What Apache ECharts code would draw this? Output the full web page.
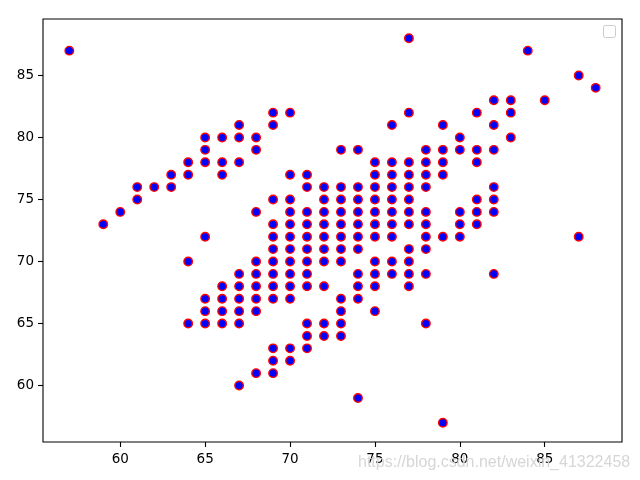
<!DOCTYPE html>
<html><head><meta charset="utf-8">
<script src="https://cdn.jsdelivr.net/npm/echarts@6/dist/echarts.min.js"></script>
<style>html,body{margin:0;padding:0;background:#fff}#c{width:640px;height:480px}</style>
</head><body><div id="c"></div>
<script>
const xCols = [57,59,60,61,62,63,64,65,66,67,68,69,70,71,72,73,74,75,76,77,78,79,80,81,82,83,84,85,87,88];
const yByCol = [
  [87],[73],[74],[76,75],[76],[77,76],[78,77,70,65],
  [80,79,78,72,67,66,65],
  [80,78,77,68,67,66,65],
  [81,80,78,69,68,67,66,65,60],
  [80,79,74,70,69,68,67,66,61],
  [82,81,75,73,72,71,70,69,68,67,63,62,61],
  [82,77,75,74,73,72,71,70,69,68,67,63,62],
  [77,76,74,73,72,71,70,69,68,65,64,63],
  [76,75,74,73,72,71,70,68,65,64],
  [79,76,75,74,73,72,71,70,67,66,65,64],
  [79,76,75,74,73,72,71,69,68,67,59],
  [78,77,76,75,74,73,72,70,69,68,66],
  [81,78,77,76,75,74,73,72,70,69],
  [88,82,78,77,76,75,74,73,71,70,69,68],
  [79,78,77,76,74,73,72,71,69,65],
  [81,79,78,77,72,57],
  [80,79,74,73,72],
  [82,79,78,75,74,73],
  [83,81,79,76,75,74,69],
  [83,82,80],
  [87],[83],[85,72],[84]
];
const xTicks = [60,65,70,75,80,85];
const yTicks = [60,65,70,75,80,85];
const watermark = 'https://blog.csdn.net/weixin_41322458';

const points = [];
xCols.forEach((x, i) => yByCol[i].forEach(y => points.push([x, y])));

const chart = echarts.init(document.getElementById('c'), null, {renderer: 'canvas'});
const font = {color: '#000', fontFamily: 'DejaVu Sans', fontSize: 13.5};
chart.setOption({
  animation: false,
  backgroundColor: '#fff',
  grid: {left: 43, top: 19, right: 18, bottom: 38, show: true, borderColor: '#000', borderWidth: 1.1, backgroundColor: 'transparent'},
  xAxis: {
    type: 'value', min: 55.45, max: 89.55,
    axisLine: {show: false},
    splitLine: {show: false},
    axisTick: {show: true, inside: false, length: 5, lineStyle: {color: '#000', width: 1.1}, customValues: xTicks},
    axisLabel: Object.assign({margin: 10, customValues: xTicks}, font)
  },
  yAxis: {
    type: 'value', min: 55.45, max: 89.55,
    axisLine: {show: false},
    splitLine: {show: false},
    axisTick: {show: true, inside: false, length: 5, lineStyle: {color: '#000', width: 1.1}, customValues: yTicks},
    axisLabel: Object.assign({margin: 9, customValues: yTicks}, font)
  },
  series: [{
    type: 'scatter',
    data: points,
    symbol: 'circle',
    symbolSize: 8.5,
    itemStyle: {color: '#0000ff', borderColor: '#ff0000', borderWidth: 1.4, opacity: 1}
  }],
  graphic: [
    {type: 'rect', shape: {x: 603.5, y: 25.5, width: 12, height: 12, r: 2},
     style: {fill: 'rgba(255,255,255,0.8)', stroke: '#cccccc', lineWidth: 1}, z: 100},
    {type: 'text', x: 358, y: 455,
     style: {text: watermark, fill: '#d6d6d6', font: '16px "Liberation Sans", Arial, sans-serif'}, z: 100}
  ]
});
</script>
</body></html>
